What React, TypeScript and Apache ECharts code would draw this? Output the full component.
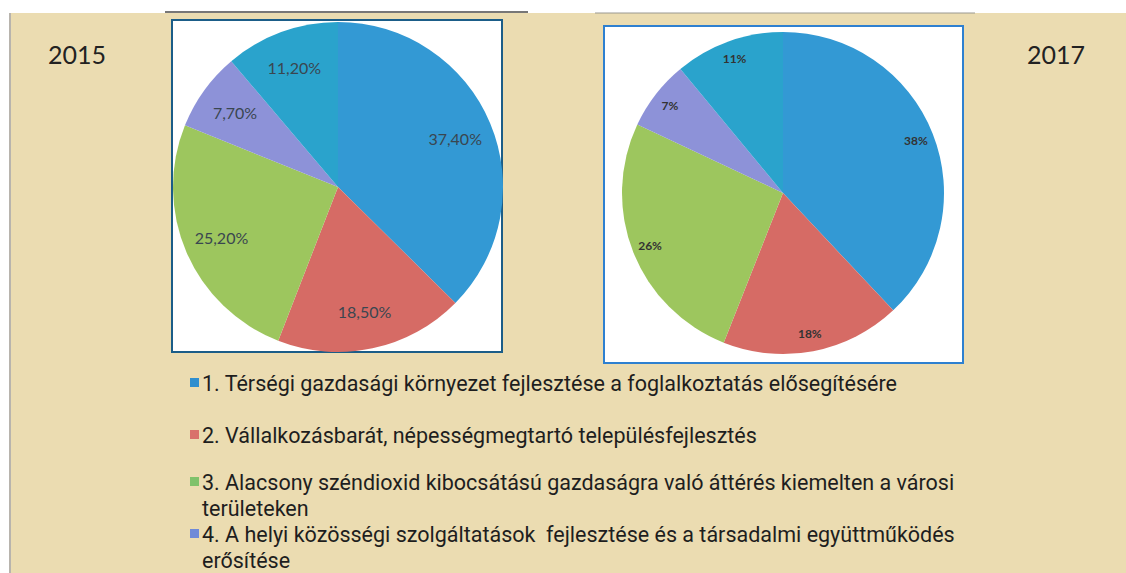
import React, { useEffect, useRef } from "react";
import * as echarts from "echarts";

const categories = [
  "1. Térségi gazdasági környezet fejlesztése a foglalkoztatás elősegítésére",
  "2. Vállalkozásbarát, népességmegtartó településfejlesztés",
  "3. Alacsony széndioxid kibocsátású gazdaságra való áttérés kiemelten a városi\nterületeken",
  "4. A helyi közösségi szolgáltatások  fejlesztése és a társadalmi együttműködés\nerősítése",
  "5.",
];
const values2015 = [37.4, 18.5, 25.2, 7.7, 11.2];
const values2017 = [38, 18, 26, 7, 11];
const sliceColors = ["#3399d4", "#d66b65", "#9dc65e", "#8d92d8", "#2aa3cc"];
const legendColors = ["#2f8fcf", "#d9716b", "#7fc26b", "#6f8ad8"];
const years = ["2015", "2017"];

const FONT = "Lato, 'Open Sans', sans-serif";
const LEGEND_FONT = "Roboto, 'Open Sans', sans-serif";

export default function App() {
  const ref = useRef<HTMLDivElement>(null);
  useEffect(() => {
    if (!ref.current) return;
    const chart = echarts.init(ref.current, null, { renderer: "svg" });

    const mkData = (vals: number[]) =>
      vals.map((v, i) => ({ name: categories[i], value: v, itemStyle: { color: sliceColors[i] } }));

    const lineY = [[383], [435], [482, 508], [534, 560]];
    const legendGraphics: any[] = [];
    for (let i = 0; i < 4; i++) {
      legendGraphics.push({
        type: "rect",
        shape: { x: 190, y: lineY[i][0] - 5, width: 9, height: 9 },
        style: { fill: legendColors[i] },
        z: 5,
      });
      categories[i].split("\n").forEach((line, j) => {
        legendGraphics.push({
          type: "text",
          x: 202,
          y: lineY[i][j],
          style: {
            text: line,
            font: `21.5px ${LEGEND_FONT}`,
            fill: "#1e1e1e",
            verticalAlign: "middle",
          },
          z: 5,
        });
      });
    }

    chart.setOption({
      animation: false,
      graphic: [
        { type: "rect", shape: { x: 0, y: 0, width: 1126, height: 573 }, style: { fill: "#ffffff" }, z: -20 },
        { type: "rect", shape: { x: 10, y: 13, width: 1116, height: 560 }, style: { fill: "#ebdcb1" }, z: -19 },
        { type: "line", shape: { x1: 10, y1: 13, x2: 10, y2: 573 }, style: { stroke: "#b8b4ad", lineWidth: 2 }, z: -18 },
        { type: "line", shape: { x1: 165, y1: 12, x2: 528, y2: 12 }, style: { stroke: "#4a4a4a", lineWidth: 1.5 }, z: -18 },
        { type: "line", shape: { x1: 595, y1: 13, x2: 975, y2: 13 }, style: { stroke: "#9a9890", lineWidth: 1 }, z: -18 },
        { type: "rect", shape: { x: 172, y: 20, width: 330, height: 332 }, style: { fill: "#ffffff", stroke: "#1b5d88", lineWidth: 2 }, z: -15 },
        { type: "rect", shape: { x: 604, y: 26, width: 359, height: 337 }, style: { fill: "#ffffff", stroke: "#2e80d0", lineWidth: 2 }, z: -15 },
        { type: "text", x: 48, y: 41, style: { text: years[0], font: `25px ${FONT}`, fill: "#222222" }, z: 5 },
        { type: "text", x: 1027, y: 41, style: { text: years[1], font: `25px ${FONT}`, fill: "#222222" }, z: 5 },
        ...legendGraphics,
      ],
      series: [
        {
          type: "pie",
          center: [338, 187],
          radius: [0, 165],
          startAngle: 90,
          clockwise: true,
          silent: true,
          data: mkData(values2015),
          label: { show: false },
          labelLine: { show: false },
          itemStyle: { borderWidth: 0 },
        },
        {
          type: "pie",
          center: [338, 187],
          radius: [83, 165],
          startAngle: 90,
          clockwise: true,
          silent: true,
          data: values2015.map((v, i) => ({ name: categories[i], value: v })),
          itemStyle: { color: "rgba(0,0,0,0)", borderWidth: 0 },
          label: {
            show: true,
            position: "inside",
            formatter: (p: any) => p.value.toFixed(2).replace(".", ",") + "%",
            fontFamily: FONT,
            fontSize: 16,
            color: "#3a4650",
          },
          labelLine: { show: false },
        },
        {
          type: "pie",
          center: [783, 193],
          radius: [0, 161],
          startAngle: 90,
          clockwise: true,
          silent: true,
          data: mkData(values2017),
          label: { show: false },
          labelLine: { show: false },
          itemStyle: { borderWidth: 0 },
        },
        {
          type: "pie",
          center: [783, 193],
          radius: [119, 161],
          startAngle: 90,
          clockwise: true,
          silent: true,
          data: values2017.map((v, i) => ({ name: categories[i], value: v })),
          itemStyle: { color: "rgba(0,0,0,0)", borderWidth: 0 },
          label: {
            show: true,
            position: "inside",
            formatter: (p: any) => p.value + "%",
            fontFamily: FONT,
            fontSize: 12,
            fontWeight: "bold",
            color: "#333333",
          },
          labelLine: { show: false },
        },
      ],
    });
    return () => chart.dispose();
  }, []);

  return (
    <div
      ref={ref}
      style={{ position: "absolute", left: 0, top: 0, width: 1126, height: 573 }}
    />
  );
}
